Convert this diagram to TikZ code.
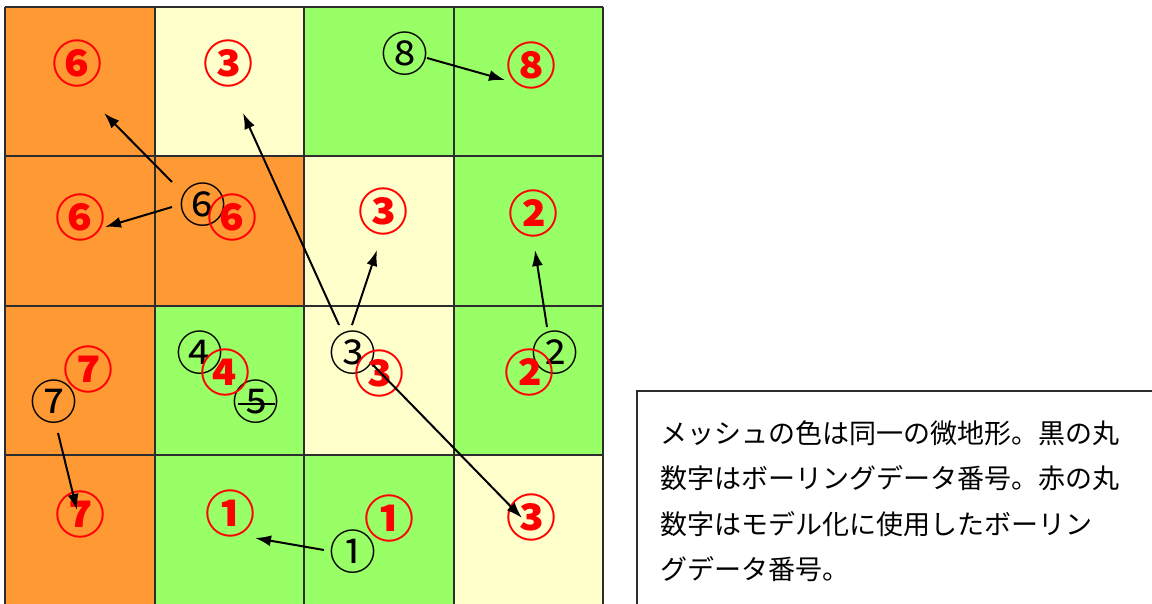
\documentclass[tikz,border=0pt]{standalone}
\usepackage{fontspec}
\newfontfamily\cjk{Noto Sans CJK JP}
\usetikzlibrary{arrows.meta}
\definecolor{cor}{RGB}{255,153,51}
\definecolor{cye}{RGB}{255,255,204}
\definecolor{cgr}{RGB}{153,255,102}
\definecolor{cgrid}{RGB}{45,45,45}
\tikzset{
  rnum/.style={text=red,font=\cjk\bfseries\fontsize{50}{50}\selectfont,inner sep=0pt},
  bnum/.style={text=black,font=\cjk\fontsize{47}{47}\selectfont,inner sep=0pt},
  arr/.style={line width=2pt,-{Latex[length=16pt,width=11pt]}},
  txt/.style={font=\cjk\fontsize{27}{27}\selectfont,anchor=base west,inner sep=0pt},
}
\begin{document}
\begin{tikzpicture}[x=1pt,y=-1pt]
\useasboundingbox (0,0) rectangle (1152,603);
\clip (0,0) rectangle (1152,603);
\fill[white] (0,0) rectangle (1152,603);
% cells
\def\cs{149.5}
\foreach \r/\c/\col in {0/0/cor,0/1/cye,0/2/cgr,0/3/cgr,
                        1/0/cor,1/1/cor,1/2/cye,1/3/cgr,
                        2/0/cor,2/1/cgr,2/2/cye,2/3/cgr,
                        3/0/cor,3/1/cgr,3/2/cgr,3/3/cye}{
  \fill[\col] ({5+\c*\cs},{6.5+\r*\cs}) rectangle ++(\cs,\cs);
}
\foreach \i in {0,...,4}{
  \draw[cgrid,line width=2pt] ({5+\i*\cs},6.5) -- ({5+\i*\cs},{6.5+4*\cs});
  \draw[cgrid,line width=2pt] (5,{6.5+\i*\cs}) -- ({5+4*\cs},{6.5+\i*\cs});
}
% black numbers
\node[bnum] (b6) at (203,205) {⑥};
\node[bnum] (b8) at (405,54) {⑧};
\node[bnum] (b4) at (200,353) {④};
\node[bnum] (b5) at (256,402) {⑤};
\node[bnum] (b7) at (54,402) {⑦};
\node[bnum] (b3) at (353,353) {③};
\node[bnum] (b2) at (555,353) {②};
\node[bnum] (b1) at (353,552) {①};
\draw[line width=1.2pt] (238,404) -- (275,404);
% red numbers
\node[rnum] (r6a) at (77,63) {⑥};
\node[rnum] (r3a) at (228,63) {③};
\node[rnum] (r8) at (531,65) {⑧};
\node[rnum] (r6b) at (80,217) {⑥};
\node[rnum] (r6c) at (232,217) {⑥};
\node[rnum] (r3b) at (383,211) {③};
\node[rnum] (r2a) at (533,213) {②};
\node[rnum] (r7a) at (88,369) {⑦};
\node[rnum] (r4) at (225,372) {④};
\node[rnum] (r3c) at (379,373) {③};
\node[rnum] (r2b) at (529,372) {②};
\node[rnum] (r7b) at (80,514) {⑦};
\node[rnum] (r1a) at (230,513) {①};
\node[rnum] (r1b) at (389,518) {①};
\node[rnum] (r3d) at (531,517) {③};
% arrow ends
\coordinate (s6a) at (172,182); \coordinate (t6a) at (104,113);
\coordinate (s6b) at (172,207); \coordinate (t6b) at (105,227);
\coordinate (s8) at (427,58);   \coordinate (t8) at (505,80);
\coordinate (s3a) at (339,325); \coordinate (t3a) at (243,113);
\coordinate (s3b) at (352,325); \coordinate (t3b) at (377,250);
\coordinate (s2) at (547,327);  \coordinate (t2) at (535,250);
\coordinate (s3c) at (373,365); \coordinate (t3c) at (522,518);
\coordinate (s7) at (58,433);   \coordinate (t7) at (77,510);
\coordinate (s1) at (324,550);  \coordinate (t1) at (255,538);
\draw[arr] (s6a) -- (t6a);
\draw[arr] (s6b) -- (t6b);
\draw[arr] (s8) -- (t8);
\draw[arr] (s3a) -- (t3a);
\draw[arr] (s3b) -- (t3b);
\draw[arr] (s2) -- (t2);
\draw[arr] (s3c) -- (t3c);
\draw[arr] (s7) -- (t7);
\draw[arr] (s1) -- (t1);
% text box
\draw[line width=1.5pt,cgrid] (637,391) rectangle (1170,620);
\node[txt] (l1) at (660,443) {メッシュの色は同一の微地形。黒の丸};
\node[txt] (l2) at (660,488) {数字はボーリングデータ番号。赤の丸};
\node[txt] (l3) at (660,534) {数字はモデル化に使用したボーリン};
\node[txt] (l4) at (660,579) {グデータ番号。};
\end{tikzpicture}
\end{document}
